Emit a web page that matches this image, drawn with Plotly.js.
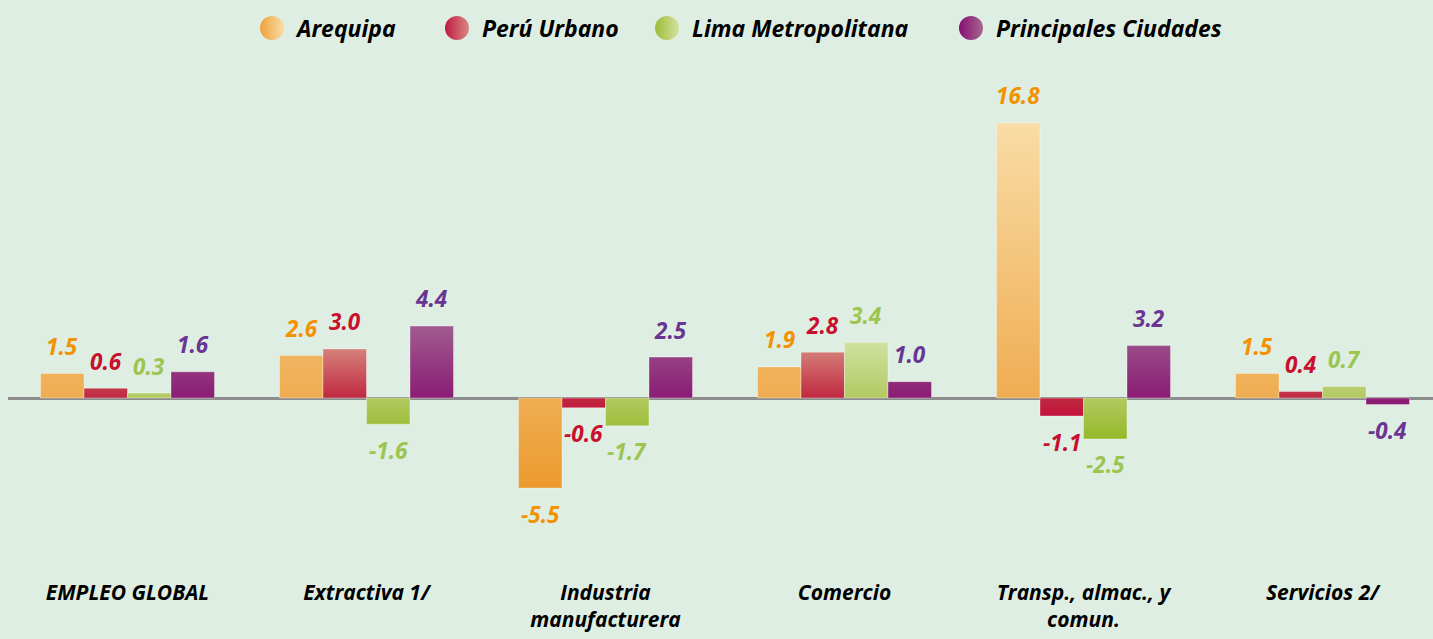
<!DOCTYPE html>
<html><head><meta charset="utf-8">
<script src="https://cdn.plot.ly/plotly-3.0.1.min.js"></script>
<style>html,body{margin:0;padding:0;background:#DEEEE3;} #chart{width:1433px;height:639px;}</style>
</head><body><div id="chart"></div>
<script>
// ---- data ----
const categories = ["EMPLEO GLOBAL", "Extractiva 1/", "Industria<br>manufacturera", "Comercio", "Transp., almac., y<br>comun.", "Servicios 2/"];
const seriesNames = ["Arequipa", "Perú Urbano", "Lima Metropolitana", "Principales Ciudades"];
const arequipa = [1.5, 2.6, -5.5, 1.9, 16.8, 1.5];
const peruUrbano = [0.6, 3.0, -0.6, 2.8, -1.1, 0.4];
const limaMetropolitana = [0.3, -1.6, -1.7, 3.4, -2.5, 0.7];
const principalesCiudades = [1.6, 4.4, 2.5, 1.0, 3.2, -0.4];

// ---- styles ----
const W = 1433, H = 639;
const M = {l: 8, r: 0, t: 60, b: 61};
const FONT = "'Open Sans', 'Noto Sans', sans-serif";
const BG = '#DEEEE3';
const barColors = ['#F0AE55', '#C22A45', '#B3CB63', '#8E2678'];
const labelColors = ['#F39200', '#C8102E', '#9BC54F', '#6A3592'];
const legendLight = ['#FADCA6', '#D98A86', '#D3E2A2', '#A4678F'];
const legendDark = ['#EEA23C', '#BE1A3E', '#9DBD33', '#870F72'];
// gradient colours: [at series max, at zero, at series min]
const gradColors = [
  ['#F9DCA6', '#EFAD52', '#EB9A2E'],
  ['#D5817B', '#C0283F', '#C2123C'],
  ['#D0E0A0', '#B2CA62', '#96B829'],
  ['#9F5C8F', '#8B1C74', '#8A1A73']
];
const legendMarkerPx = [267, 452, 662, 966];
const BARGAP = 0.272;

const allSeries = [arequipa, peruUrbano, limaMetropolitana, principalesCiudades];
const plotW = W - M.l - M.r;
const plotH = H - M.t - M.b;

const traces = [];
allSeries.forEach((vals, i) => {
  traces.push({
    type: 'bar', x: categories, y: vals, name: seriesNames[i],
    marker: {color: barColors[i], line: {width: 1, color: 'rgba(255,255,255,0.35)'}},
    showlegend: false, hoverinfo: 'skip'
  });
});
allSeries.forEach((vals, i) => {
  traces.push({
    type: 'scatter', mode: 'markers', x: [null], y: [null], name: seriesNames[i],
    marker: {size: 16, color: legendDark[i], symbol: 'circle',
             gradient: {type: 'horizontal', color: legendLight[i]}, line: {width: 0}},
    legend: i === 0 ? 'legend' : 'legend' + (i + 1), showlegend: true, hoverinfo: 'skip'
  });
});

// data labels via annotations on the axes
const annotations = [];
const bw = (1 - BARGAP) / allSeries.length;
allSeries.forEach((vals, i) => {
  const off = -(1 - BARGAP) / 2 + (i + 0.5) * bw;
  vals.forEach((v, j) => {
    annotations.push({
      x: j + off, y: v, xref: 'x', yref: 'y', text: v.toFixed(1), showarrow: false,
      yshift: v >= 0 ? 27 : -26, yanchor: 'middle', xanchor: 'center',
      font: {family: FONT, size: 22.5, color: labelColors[i], weight: 'bold', style: 'italic'}
    });
  });
});

const zeroPx = 398, pxPerUnit = 16.37;
const yTop = (zeroPx - M.t) / pxPerUnit;
const yBot = -((M.t + plotH) - zeroPx) / pxPerUnit;
const catPx = 239;
const xSpan = plotW / catPx;

const layout = {
  width: W, height: H, margin: M,
  paper_bgcolor: BG, plot_bgcolor: BG,
  barmode: 'group', bargap: BARGAP, bargroupgap: 0,
  xaxis: {type: 'category', range: [-0.5, -0.5 + xSpan], showgrid: false, showline: false, zeroline: false,
          ticks: '', ticklabelstandoff: 0,
          tickfont: {family: FONT, size: 21, color: '#000', weight: 'bold', style: 'italic'}},
  yaxis: {range: [yBot, yTop], showgrid: false, showticklabels: false, ticks: '',
          zeroline: true, zerolinecolor: '#8C8C8C', zerolinewidth: 3, showline: false},
  annotations: annotations,
  showlegend: true
};
const legFont = {family: FONT, size: 23, color: '#000', weight: 'bold', style: 'italic'};
legendMarkerPx.forEach((px, i) => {
  const key = i === 0 ? 'legend' : 'legend' + (i + 1);
  layout[key] = {x: (px - 20 - M.l) / plotW, xanchor: 'left', y: 1 + (M.t - 28) / plotH, yanchor: 'middle',
                 orientation: 'h', bgcolor: 'rgba(0,0,0,0)', font: legFont, borderwidth: 0, itemwidth: 40};
});

const gd = document.getElementById('chart');
Plotly.newPlot(gd, traces, layout, {displayModeBar: false, staticPlot: true}).then(() => {
  const ya = gd._fullLayout.yaxis;
  const svg = gd.querySelector('svg.main-svg');
  const ns = 'http://www.w3.org/2000/svg';
  let defs = svg.querySelector('defs');
  gd.querySelectorAll('.barlayer .trace.bars').forEach((g, i) => {
    const vals = allSeries[i];
    const vmax = Math.max(0, ...vals), vmin = Math.min(0, ...vals);
    const y1 = ya.l2p(vmax), y2 = ya.l2p(vmin), y0 = ya.l2p(0);
    const lg = document.createElementNS(ns, 'linearGradient');
    lg.setAttribute('id', 'bargrad' + i);
    lg.setAttribute('gradientUnits', 'userSpaceOnUse');
    lg.setAttribute('x1', 0); lg.setAttribute('x2', 0);
    lg.setAttribute('y1', y1); lg.setAttribute('y2', y2);
    const stops = [[0, gradColors[i][0]], [(y0 - y1) / (y2 - y1), gradColors[i][1]], [1, gradColors[i][2]]];
    stops.forEach(s => {
      const st = document.createElementNS(ns, 'stop');
      st.setAttribute('offset', s[0]); st.setAttribute('stop-color', s[1]);
      lg.appendChild(st);
    });
    defs.appendChild(lg);
    g.querySelectorAll('path').forEach(p => { p.style.fill = 'url(#bargrad' + i + ')'; });
  });
  // enlarge the round legend symbols
  gd.querySelectorAll('.legendpoints path.scatterpts').forEach(p => {
    const t = p.getAttribute('transform') || '';
    p.setAttribute('transform', t + ' scale(1.5)');
  });
});
</script></body></html>
